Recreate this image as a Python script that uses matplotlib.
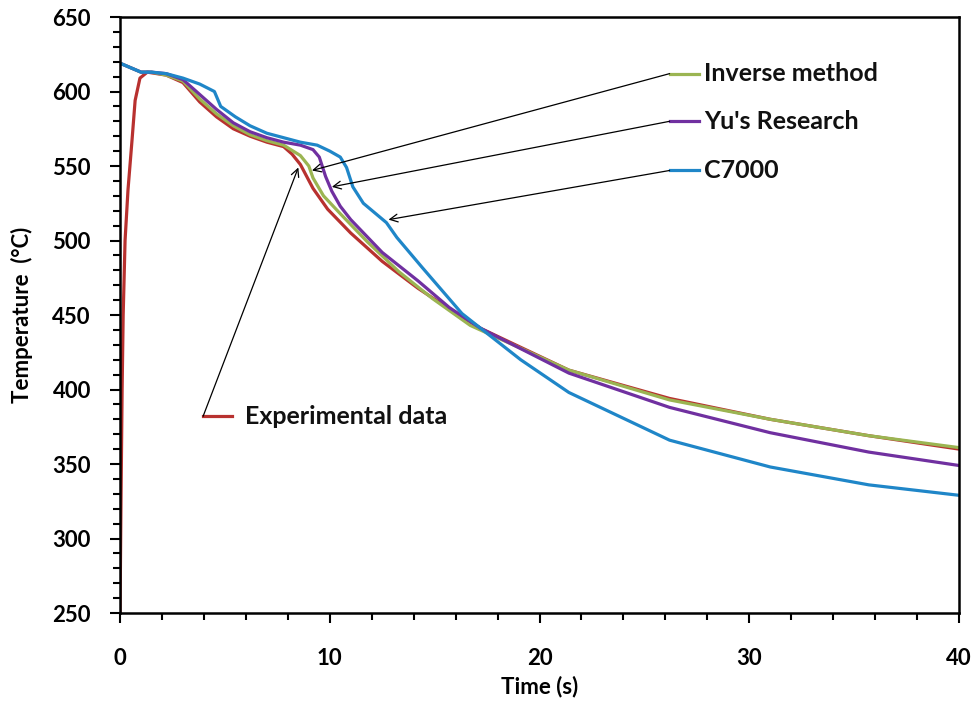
import matplotlib
matplotlib.use("Agg")
import matplotlib.pyplot as plt
from matplotlib.ticker import MultipleLocator

plt.rcParams['font.family'] = ['Lato', 'DejaVu Sans']
plt.rcParams['font.weight'] = 'bold'

# data
exp_t = [0, 0.05, 0.1, 0.15, 0.24, 0.38, 0.57, 0.72, 0.95, 1.3, 2.2, 3.0, 3.8, 4.6, 5.4, 6.2,
         7.0, 7.8, 8.2, 8.6, 9.2, 9.9, 11.0, 12.5, 14.2, 15.7, 17.2, 21.4, 26.2, 31.0, 35.7, 40]
exp_T = [250, 330, 400, 450, 500, 534, 567, 594, 609, 613, 611, 606, 593, 583, 575, 570,
         566, 563, 558, 551, 535, 521, 505, 486, 468, 454, 441, 413, 394, 380, 369, 360]

inv_t = [0, 0.5, 1.0, 1.5, 2.2, 3.0, 3.8, 4.6, 5.4, 6.2, 7.0, 7.8, 8.6, 9.0, 9.2, 9.7,
         10.5, 11.8, 13.3, 14.9, 16.7, 21.4, 26.2, 31.0, 35.7, 40]
inv_T = [619, 616, 613, 613, 611, 607, 595, 585, 577, 571, 567, 564, 557, 550, 542, 530,
         518, 499, 479, 461, 443, 413, 393, 380, 369, 361]

yu_t = [0, 0.5, 1.0, 1.5, 2.2, 3.0, 3.8, 4.6, 5.4, 6.2, 7.0, 7.8, 8.6, 9.2, 9.5, 9.8,
        10.1, 10.5, 11.0, 12.5, 14.2, 15.7, 17.2, 21.4, 26.2, 31.0, 35.7, 40]
yu_T = [619, 616, 613, 613, 612, 608, 598, 588, 579, 573, 569, 566, 564, 561, 556, 543,
        533, 523, 514, 492, 473, 455, 441, 411, 388, 371, 358, 349]

c7_t = [0, 0.5, 1.0, 1.5, 2.2, 3.0, 3.8, 4.5, 4.8, 5.5, 6.2, 7.0, 7.8, 8.6, 9.4, 10.0,
        10.5, 10.8, 11.1, 11.6, 12.7, 13.2, 14.4, 16.3, 17.2, 19.1, 21.4, 26.2, 31.0, 35.7, 40]
c7_T = [619, 616, 613, 613, 612, 609, 605, 600, 590, 583, 577, 572, 569, 566, 564, 560,
        556, 549, 536, 525, 512, 502, 482, 451, 441, 420, 398, 366, 348, 336, 329]

labels = ["Experimental data", "Inverse method", "Yu's Research", "C7000"]
colors = ['#B8312F', '#9BB552', '#7030A0', '#1F86C8']
# arrow tips on each curve and label anchors (t, T)
tips = [(8.5, 549), (9.15, 547), (10.1, 536), (12.8, 514)]
anchors = [(3.96, 382), (26.2, 612), (26.2, 580), (26.2, 547)]
text_gap = [2.0, 1.65, 1.65, 1.65]

fig = plt.figure(figsize=(9.79, 7.09), dpi=100)
ax = fig.add_axes([0.1226, 0.1354, 0.857, 0.8406])

series = [(exp_t, exp_T), (inv_t, inv_T), (yu_t, yu_T), (c7_t, c7_T)]
for (t, T), c in zip(series, colors):
    ax.plot(t, T, color=c, lw=2.3, solid_capstyle='round', solid_joinstyle='round')

for lab, c, tip, anc, gap in zip(labels, colors, tips, anchors, text_gap):
    ax.annotate('', xy=tip, xytext=anc,
                arrowprops=dict(arrowstyle='->', color='black', lw=0.9,
                                shrinkA=0, shrinkB=0, mutation_scale=14))
    ax.plot([anc[0], anc[0] + 1.4], [anc[1], anc[1]], color=c, lw=2.3)
    ax.text(anc[0] + gap, anc[1], lab, fontsize=18, fontweight='bold',
            va='center', ha='left', color='#111111')

ax.set_xlim(0, 40)
ax.set_ylim(250, 650)
ax.xaxis.set_major_locator(MultipleLocator(10))
ax.xaxis.set_minor_locator(MultipleLocator(2))
ax.yaxis.set_major_locator(MultipleLocator(50))
ax.yaxis.set_minor_locator(MultipleLocator(10))
ax.tick_params(which='major', direction='out', length=7, width=1.5, labelsize=16)
ax.tick_params(which='minor', direction='out', length=5, width=1.5)
ax.tick_params(axis='x', which='major', pad=18)
ax.tick_params(axis='y', which='major', pad=14)
for lbl in ax.get_xticklabels() + ax.get_yticklabels():
    lbl.set_fontweight('bold')
for sp in ax.spines.values():
    sp.set_linewidth(1.8)

ax.set_xlabel('Time (s)', fontsize=16, fontweight='bold', labelpad=5)
ax.set_ylabel('Temperature  (°C)', fontsize=16, fontweight='bold', labelpad=14)

fig.savefig('out.png', dpi=100)
